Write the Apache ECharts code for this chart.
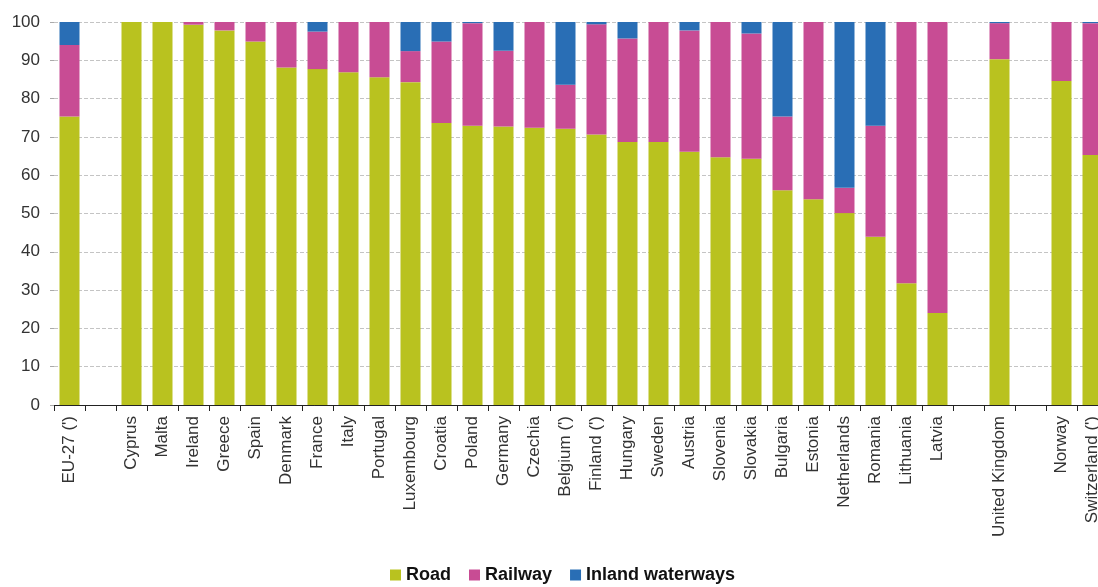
<!DOCTYPE html>
<html>
<head>
<meta charset="utf-8">
<script src="https://cdn.jsdelivr.net/npm/echarts@6/dist/echarts.min.js"></script>
<style>
html,body{margin:0;padding:0;background:#fff;}
#c{width:1098px;height:587px;}
</style>
</head>
<body>
<div id="c"></div>
<script>
const categories = ["EU-27 (')", "", "Cyprus", "Malta", "Ireland", "Greece", "Spain", "Denmark", "France", "Italy", "Portugal", "Luxembourg", "Croatia", "Poland", "Germany", "Czechia", "Belgium (')", "Finland (')", "Hungary", "Sweden", "Austria", "Slovenia", "Slovakia", "Bulgaria", "Estonia", "Netherlands", "Romania", "Lithuania", "Latvia", " ", "United Kingdom", "  ", "Norway", "Switzerland (')"];
const road = [75.3, null, 100, 100, 99.3, 97.8, 94.9, 88.1, 87.7, 86.9, 85.6, 84.3, 73.6, 72.9, 72.7, 72.4, 72.1, 70.6, 68.7, 68.7, 66.1, 64.7, 64.3, 56.1, 53.7, 50.1, 43.9, 31.8, 24.0, null, 90.3, null, 84.6, 65.3];
const railway = [18.7, null, 0, 0, 0.7, 2.2, 5.1, 11.9, 9.8, 13.1, 14.4, 8.1, 21.3, 26.8, 19.8, 27.6, 11.5, 28.8, 27.0, 31.3, 31.7, 35.3, 32.7, 19.2, 46.3, 6.6, 29.0, 68.2, 76.0, null, 9.4, null, 15.4, 34.4];
const inlandWaterways = [6.0, null, 0, 0, 0, 0, 0, 0, 2.5, 0, 0, 7.6, 5.1, 0.3, 7.5, 0, 16.4, 0.6, 4.3, 0, 2.2, 0, 3.0, 24.7, 0, 43.3, 27.1, 0, 0, null, 0.3, null, 0, 0.3];
const yTicks = [0, 10, 20, 30, 40, 50, 60, 70, 80, 90, 100];

const colors = { road: '#b9c21f', railway: '#c84c94', water: '#296eb5' };
const font = '"Liberation Sans", Arial, sans-serif';

function mk(name, data, color) {
  return {
    name: name, type: 'bar', stack: 'total', barWidth: 20,
    data: data.map(v => v === null ? '-' : v),
    itemStyle: { color: color },
    emphasis: { disabled: true }
  };
}

const chart = echarts.init(document.getElementById('c'), null, { renderer: 'canvas' });
chart.setOption({
  animation: false,
  textStyle: { fontFamily: font },
  grid: { left: 54, right: -10, top: 22, bottom: 182, containLabel: false, outerBoundsMode: 'none' },
  legend: {
    bottom: -2, left: 385,
    icon: 'rect', itemWidth: 11, itemHeight: 11, itemGap: 18,
    textStyle: { fontFamily: font, fontSize: 18, fontWeight: 'bold', color: '#111' },
    data: ['Road', 'Railway', 'Inland waterways']
  },
  xAxis: {
    type: 'category', data: categories,
    axisLine: { lineStyle: { color: '#222', width: 1 } },
    axisTick: { show: true, alignWithLabel: false, length: 6, lineStyle: { color: '#222' }, interval: 0 },
    axisLabel: { interval: 0, rotate: 90, fontSize: 17, color: '#333', margin: 11, fontFamily: font }
  },
  yAxis: {
    type: 'value', min: 0, max: 100, interval: 10,
    axisLine: { show: false },
    axisTick: { show: true, length: 4, lineStyle: { color: '#aaa' } },
    axisLabel: { fontSize: 17, color: '#333', margin: 14, fontFamily: font,
      formatter: v => yTicks.includes(v) ? String(v) : '' },
    splitLine: { lineStyle: { color: '#c4c4c4', type: [4, 2], width: 1 } }
  },
  series: [
    mk('Road', road, colors.road),
    mk('Railway', railway, colors.railway),
    mk('Inland waterways', inlandWaterways, colors.water)
  ]
});
</script>
</body>
</html>
